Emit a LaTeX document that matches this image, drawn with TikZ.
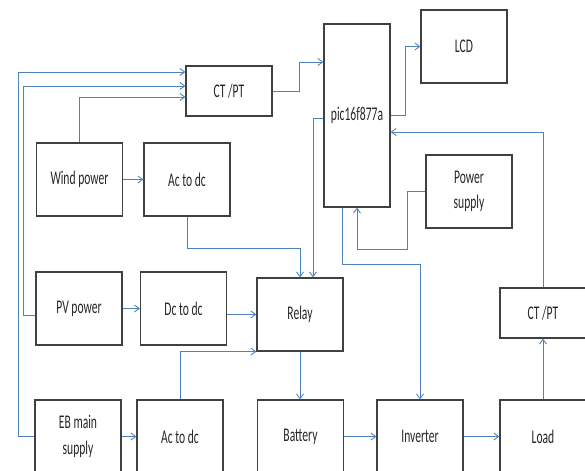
\documentclass[tikz,border=0pt]{standalone}
\usepackage{fontspec}
\setmainfont{Carlito}[FakeStretch=0.6]
\usetikzlibrary{arrows.meta,calc}
\definecolor{wireblue}{RGB}{79,129,189}

\begin{document}
\begin{tikzpicture}[
      x=0.04cm, y=-0.04cm,
      every node/.style={font=\fontsize{22}{29}\selectfont, text=black!85},
      blk/.style={draw=black!75, line width=1.3pt, minimum width=3.44cm, minimum height=2.92cm, align=center, inner sep=0pt},
      flat/.style={blk, minimum height=2cm},
      wire/.style={draw=wireblue, line width=1pt, -{Straight Barb[length=5.5pt,width=8pt]}}
    ]
      \clip (0,0) rectangle (585,470);
      \node[flat] (ctptA) at (229,91) {CT /PT};
      \node[blk, minimum width=2.64cm, minimum height=7.32cm] (pic) at (357,115.5) {pic16f877a};
      \node[blk] (lcd) at (464,46.5) {LCD};
      \node[blk] (psu) at (469,191.5) {Power\\supply};
      \node[blk] (wind) at (79.5,179.5) {Wind power};
      \node[blk] (acdcA) at (187,179.5) {Ac to dc};
      \node[blk] (pv) at (79,308.5) {PV power};
      \node[blk] (dcdc) at (183.5,308.5) {Dc to dc};
      \node[blk] (relay) at (300,314.5) {Relay};
      \node[blk] (eb) at (78,436.5) {EB main\\supply};
      \node[blk] (acdcB) at (180,436.5) {Ac to dc};
      \node[blk] (battery) at (300.5,436.5) {Battery};
      \node[blk] (inverter) at (420,436.5) {Inverter};
      \node[blk] (load) at (543,436.5) {Load};
      \node[flat] (ctptB) at (543,313) {CT /PT};

      \draw[wire] (wind) -- (acdcA);
      \draw[wire] (pv) -- (dcdc);
      \draw[wire] (wind.north) |- ($(ctptA.west)+(0,6)$);
      \draw[wire] ($(pv.west)+(0,6.5)$) -- ++(-12,0) |- ($(ctptA.west)+(0,-5)$);
      \draw[wire] (eb.west) -- ++(-16,0) |- ($(ctptA.west)+(0,-19)$);
      \draw[wire] (ctptA.east) -- ++(27,0) |- ($(pic.west)+(0,-53.5)$);
      \draw[wire] (pic.east) -- ++(15,0) |- (lcd.west);
      \draw[wire] ($(pic.west)+(0,2.5)$) -| ($(relay.north)+(13,0)$);
      \draw[wire] (acdcA.south) -- ++(0,32) -| (relay.north);
      \draw[wire] (dcdc.east |- relay.west) -- (relay.west);
      \draw[wire] (acdcB.north) |- (relay.south west);
      \draw[wire] (relay.south) -- (relay.south |- battery.north);
      \draw[wire] (eb) -- (acdcB);
      \draw[wire] (battery) -- (inverter);
      \draw[wire] (inverter) -- (load);
      \draw[wire] (load) -- (ctptB);
      \draw[wire] (ctptB.north) |- ($(pic.east)+(0,16.5)$);
      \draw[wire] (psu.west) -- ++(-18,0) -- ++(0,57.5) -| (pic.south);
      \draw[wire] ($(pic.south)+(-15,0)$) -- ++(0,57) -| (inverter.north);
    \end{tikzpicture}
\end{document}
